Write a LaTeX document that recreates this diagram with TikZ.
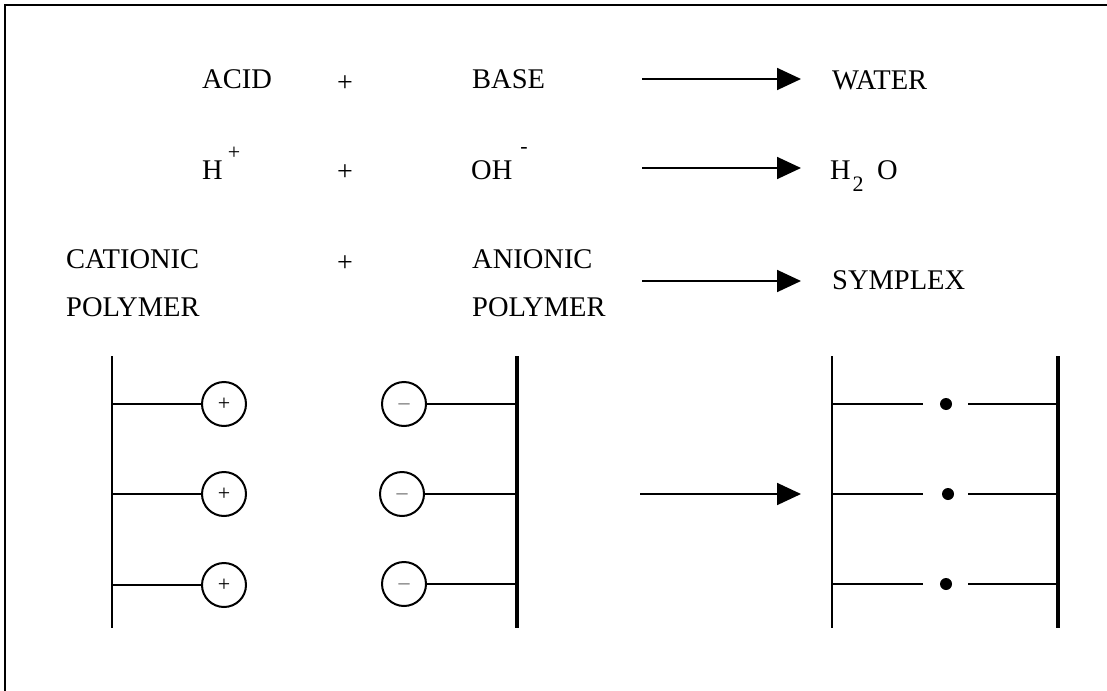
\documentclass[tikz,border=0pt]{standalone}
\usepackage{fontspec}
\setmainfont{Liberation Serif}
\usetikzlibrary{arrows.meta}
\begin{document}
\begin{tikzpicture}[x=1pt,y=-1pt,
  txt/.style={anchor=base west,inner sep=0pt,font=\fontsize{28.5}{30}\selectfont},
  plus/.style={anchor=center,inner sep=0pt,font=\fontsize{28}{30}\selectfont},
  sup/.style={anchor=center,inner sep=0pt,font=\fontsize{22}{22}\selectfont},
  rarrow/.style={line width=1.8pt,-{Triangle[length=24pt,width=22pt]}},
  thin/.style={line width=1.8pt},
  thick/.style={line width=3.6pt},
  ion/.style={circle,draw,line width=2pt,minimum size=44pt,inner sep=0pt,font=\fontsize{22}{22}\selectfont},
  bond/.style={circle,fill,minimum size=12pt,inner sep=0pt}]
\useasboundingbox (0,0) rectangle (1107,690);
\fill[white] (0,0) rectangle (1107,690);
% frame (top and left edges)
\coordinate (fl) at (5,700);
\coordinate (ftl) at (5,5);
\coordinate (ftr) at (1115,5);
\draw[line width=2pt] (fl) -- (ftl) -- (ftr);

% row 1
\node[txt] (acid) at (202,89) {ACID};
\node[plus] (p1) at (345,84) {+};
\node[txt] (base) at (472,89) {BASE};
\coordinate (a1s) at (642,79);
\coordinate (a1e) at (801,79);
\draw[rarrow] (a1s) -- (a1e);
\node[txt] (water) at (832,90) {WATER};

% row 2
\node[txt] (h) at (202,179) {H};
\node[sup] (hplus) at (234,153) {+};
\node[plus] (p2) at (345,173) {+};
\node[txt] (oh) at (471,179) {OH};
\node[sup] (ohminus) at (524,150) {-};
\coordinate (a2s) at (642,168);
\coordinate (a2e) at (801,168);
\draw[rarrow] (a2s) -- (a2e);
\node[txt] (h2) at (830,179) {H};
\node[sup] (two) at (858,184) {2};
\node[txt] (o) at (877,179) {O};

% row 3
\node[txt] (cat) at (66,268) {CATIONIC};
\node[txt] (catp) at (66,316) {POLYMER};
\node[plus] (p3) at (345,264) {+};
\node[txt] (an) at (472,268) {ANIONIC};
\node[txt] (anp) at (472,316) {POLYMER};
\coordinate (a3s) at (642,281);
\coordinate (a3e) at (801,281);
\draw[rarrow] (a3s) -- (a3e);
\node[txt] (sym) at (832,289) {SYMPLEX};

% cationic polymer chain
\coordinate (ct) at (112,356);
\coordinate (cb) at (112,628);
\draw[thin] (ct) -- (cb);
\foreach \i/\y in {1/404,2/494,3/585}{
  \coordinate (cl\i) at (112,\y);
  \node[ion] (cp\i) at (224,\y) {+};
  \draw[thin] (cl\i) -- (cp\i);
}
% anionic polymer chain
\coordinate (at) at (517,356);
\coordinate (ab) at (517,628);
\draw[thick] (at) -- (ab);
\foreach \i/\x/\y in {1/404/404,2/402/494,3/404/584}{
  \coordinate (ar\i) at (517,\y);
  \node[ion,text=black!60] (am\i) at (\x,\y) {\smash{\raisebox{-5.5pt}{--}}};
  \draw[thin] (am\i) -- (ar\i);
}

% middle arrow
\coordinate (m1) at (640,494);
\coordinate (m2) at (801,494);
\draw[rarrow] (m1) -- (m2);

% symplex
\coordinate (st) at (832,356);
\coordinate (sb) at (832,628);
\coordinate (tt) at (1058,356);
\coordinate (tb) at (1058,628);
\draw[thin] (st) -- (sb);
\draw[thick] (tt) -- (tb);
\foreach \i/\y/\d in {1/404/946,2/494/948,3/584/946}{
  \coordinate (sl\i) at (832,\y);
  \coordinate (sm\i) at (923,\y);
  \coordinate (sn\i) at (968,\y);
  \coordinate (sr\i) at (1058,\y);
  \node[bond] (dot\i) at (\d,\y) {};
  \draw[thin] (sl\i) -- (sm\i);
  \draw[thin] (sn\i) -- (sr\i);
}
\end{tikzpicture}
\end{document}
